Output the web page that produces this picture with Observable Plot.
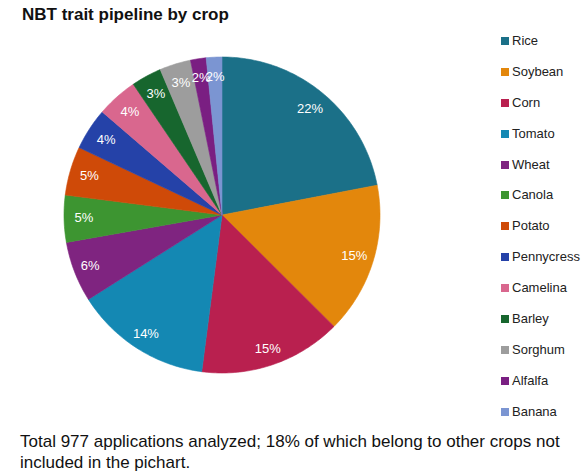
<!DOCTYPE html>
<html>
<head>
<meta charset="utf-8">
<script src="https://cdn.jsdelivr.net/npm/d3@7"></script>
<script src="https://cdn.jsdelivr.net/npm/@observablehq/plot@0.6"></script>
<style>
  html, body { margin: 0; padding: 0; background: #fff; }
  body { width: 587px; height: 474px; position: relative; overflow: hidden;
         font-family: "Liberation Sans", Arial, sans-serif; }
  #title { position: absolute; left: 22px; top: 5px; font-size: 17px; font-weight: bold; color: #111; }
  #chart { position: absolute; left: 0; top: 0; }
  #legend { position: absolute; left: 501px; top: 33px; font-size: 13px; color: #222; }
  .row { height: 30.9px; display: flex; align-items: flex-start; }
  .sw { width: 8px; height: 8px; margin-top: 4px; margin-right: 3px; }
  #caption { position: absolute; left: 20px; top: 432px; font-size: 17px; line-height: 20.5px; color: #111; width: 565px; }
</style>
</head>
<body>
<div id="title">NBT trait pipeline by crop</div>
<div id="chart"></div>
<div id="legend"></div>
<div id="caption">Total 977 applications analyzed; 18% of which belong to other crops not included in the pichart.</div>
<script>
const crops = ["Rice","Soybean","Corn","Tomato","Wheat","Canola","Potato","Pennycress","Camelina","Barley","Sorghum","Alfalfa","Banana"];
const shares = [22.0, 15.5, 14.6, 14.0, 6.2, 4.8, 5.0, 4.3, 4.2, 3.1, 3.2, 1.6, 1.6];
const labels = ["22%","15%","15%","14%","6%","5%","5%","4%","4%","3%","3%","2%","2%"];
const colors = ["#1b7088","#e3870c","#b9204f","#1488b3","#7f2480","#3d9531","#cf4a08","#2542a8","#d9678e","#17662e","#9d9d9d","#7a1f82","#7b95d2"];

const W = 470, H = 420, CX = 221.5, CY = 214.5, R = 158;
const total = d3.sum(shares);
const pts = [];
const labs = [];
let acc = 0;
crops.forEach((c, i) => {
  const a0 = acc / total * 2 * Math.PI;
  acc += shares[i];
  const a1 = acc / total * 2 * Math.PI;
  pts.push({crop: c, x: 0, y: 0});
  const n = Math.max(2, Math.ceil((a1 - a0) / (Math.PI / 180)));
  for (let k = 0; k <= n; k++) {
    const a = a0 + (a1 - a0) * k / n;
    pts.push({crop: c, x: Math.sin(a), y: Math.cos(a)});
  }
  pts.push({crop: c, x: 0, y: 0});
  const am = (a0 + a1) / 2;
  const rl = am > Math.PI * 0.8 && am < Math.PI * 1.4 ? 0.895 : 0.875;
  labs.push({crop: c, label: labels[i], x: rl * Math.sin(am), y: rl * Math.cos(am)});
});

const plot = Plot.plot({
  width: W, height: H,
  margin: 0,
  x: {domain: [-CX / R, (W - CX) / R], axis: null},
  y: {domain: [-(H - CY) / R, CY / R], axis: null},
  color: {domain: crops, range: colors},
  marks: [
    Plot.line(pts, {x: "x", y: "y", z: "crop", fill: "crop", stroke: "crop", strokeWidth: 0.6, curve: "linear"}),
    Plot.text(labs, {x: "x", y: "y", text: "label", fill: "white", fontSize: 13, fontFamily: "Liberation Sans, Arial, sans-serif"})
  ]
});
document.getElementById("chart").appendChild(plot);

const leg = document.getElementById("legend");
crops.forEach((c, i) => {
  const row = document.createElement("div");
  row.className = "row";
  row.innerHTML = `<div class="sw" style="background:${colors[i]}"></div><div>${c}</div>`;
  leg.appendChild(row);
});
</script>
</body>
</html>
